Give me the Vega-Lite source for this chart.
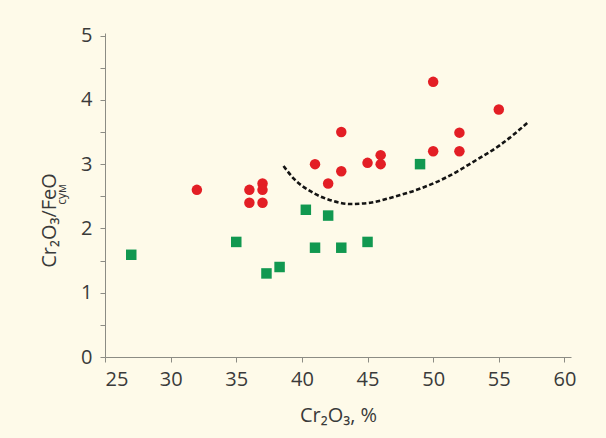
{
  "$schema": "https://vega.github.io/schema/vega-lite/v6.json",
  "width": 466,
  "height": 324,
  "autosize": {"type": "none"},
  "padding": {"left": 105, "top": 33, "right": 35, "bottom": 81},
  "background": "#fefae9",
  "config": {
    "view": {"stroke": null},
    "font": "Open Sans",
    "axis": {
      "grid": false,
      "domainColor": "#8c8c84",
      "tickColor": "#8c8c84",
      "tickSize": 5,
      "labelFont": "Open Sans",
      "labelFontSize": 20,
      "labelColor": "#3a3a3a",
      "titleFont": "Open Sans",
      "titleFontSize": 20,
      "titleFontWeight": "normal",
      "titleColor": "#3a3a3a"
    }
  },
  "datasets": {
    "points": [
      {"cr2o3": 32, "ratio": 2.6, "type": "A"},
      {"cr2o3": 36, "ratio": 2.6, "type": "A"},
      {"cr2o3": 36, "ratio": 2.4, "type": "A"},
      {"cr2o3": 37, "ratio": 2.7, "type": "A"},
      {"cr2o3": 37, "ratio": 2.6, "type": "A"},
      {"cr2o3": 37, "ratio": 2.4, "type": "A"},
      {"cr2o3": 41, "ratio": 3.0, "type": "A"},
      {"cr2o3": 42, "ratio": 2.7, "type": "A"},
      {"cr2o3": 43, "ratio": 3.5, "type": "A"},
      {"cr2o3": 43, "ratio": 2.89, "type": "A"},
      {"cr2o3": 45, "ratio": 3.02, "type": "A"},
      {"cr2o3": 46, "ratio": 3.14, "type": "A"},
      {"cr2o3": 46, "ratio": 3.0, "type": "A"},
      {"cr2o3": 50, "ratio": 4.28, "type": "A"},
      {"cr2o3": 50, "ratio": 3.2, "type": "A"},
      {"cr2o3": 52, "ratio": 3.49, "type": "A"},
      {"cr2o3": 52, "ratio": 3.2, "type": "A"},
      {"cr2o3": 55, "ratio": 3.85, "type": "A"},
      {"cr2o3": 27, "ratio": 1.59, "type": "B"},
      {"cr2o3": 35, "ratio": 1.79, "type": "B"},
      {"cr2o3": 37.3, "ratio": 1.3, "type": "B"},
      {"cr2o3": 38.3, "ratio": 1.4, "type": "B"},
      {"cr2o3": 40.3, "ratio": 2.29, "type": "B"},
      {"cr2o3": 41, "ratio": 1.7, "type": "B"},
      {"cr2o3": 42, "ratio": 2.2, "type": "B"},
      {"cr2o3": 43, "ratio": 1.7, "type": "B"},
      {"cr2o3": 45, "ratio": 1.79, "type": "B"},
      {"cr2o3": 49, "ratio": 3.0, "type": "B"}
    ],
    "curve": [
      {"cr2o3": 38.6, "ratio": 2.97},
      {"cr2o3": 39.36, "ratio": 2.78},
      {"cr2o3": 40.89, "ratio": 2.55},
      {"cr2o3": 42.16, "ratio": 2.44},
      {"cr2o3": 43.68, "ratio": 2.38},
      {"cr2o3": 45.21, "ratio": 2.4},
      {"cr2o3": 46.98, "ratio": 2.49},
      {"cr2o3": 49.02, "ratio": 2.62},
      {"cr2o3": 51.06, "ratio": 2.8},
      {"cr2o3": 53.09, "ratio": 3.04},
      {"cr2o3": 55.12, "ratio": 3.3},
      {"cr2o3": 57.28, "ratio": 3.66}
    ]
  },
  "layer": [
    {
      "data": {"name": "points"},
      "mark": {"type": "point", "filled": true, "opacity": 1, "size": 110},
      "encoding": {
        "x": {
          "field": "cr2o3", "type": "quantitative",
          "scale": {"domain": [25, 60.5], "nice": false, "zero": false},
          "axis": {
            "values": [25, 30, 35, 40, 45, 50, 55, 60],
            "title": "Cr₂O₃, %",
            "labelPadding": 7,
            "titlePadding": 16
          }
        },
        "y": {
          "field": "ratio", "type": "quantitative",
          "scale": {"domain": [0, 5.04], "nice": false},
          "axis": {
            "values": [0, 0.5, 1, 1.5, 2, 2.5, 3, 3.5, 4, 4.5, 5],
            "labelExpr": "datum.value % 1 === 0 ? format(datum.value, 'd') : ''",
            "labelPadding": 8,
            "title": "Cr₂O₃/FeO",
            "titleBaseline": "alphabetic",
            "titleX": -50,
            "titleY": 187,
            "titleAngle": -90
          }
        },
        "shape": {
          "field": "type", "type": "nominal",
          "scale": {"domain": ["A", "B"], "range": ["circle", "square"]},
          "legend": null
        },
        "color": {
          "field": "type", "type": "nominal",
          "scale": {"domain": ["A", "B"], "range": ["#e31e25", "#119850"]},
          "legend": null
        }
      }
    },
    {
      "data": {"name": "curve"},
      "mark": {"type": "line", "color": "#141414", "strokeWidth": 2.6, "strokeDash": [4.5, 2.5], "interpolate": "monotone"},
      "encoding": {
        "x": {"field": "cr2o3", "type": "quantitative"},
        "y": {
          "field": "ratio", "type": "quantitative",
          "axis": {
            "orient": "left",
            "domain": false,
            "ticks": false,
            "labels": false,
            "title": "сум",
            "titleFontSize": 12,
            "titleBaseline": "alphabetic",
            "titleX": -40,
            "titleY": 161,
            "titleAngle": -90
          }
        }
      }
    }
  ],
  "resolve": {"axis": {"y": "independent"}}
}
